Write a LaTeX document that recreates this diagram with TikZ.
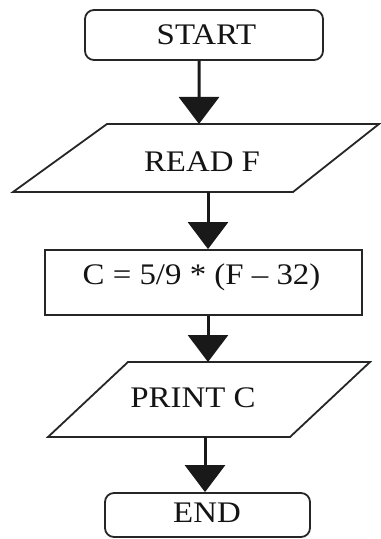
\documentclass[tikz,border=0pt]{standalone}
\usepackage{fontspec}
\setmainfont{Liberation Serif}
\usetikzlibrary{arrows.meta}
\newcommand{\lbltxt}[1]{\scalebox{1.1}[1]{#1}}
\begin{document}
\begin{tikzpicture}[x=1bp,y=-1bp,
  shapeline/.style={draw=black!85, line width=1.8bp},
  termbox/.style={shapeline, rounded corners=9bp, inner sep=0pt},
  procbox/.style={shapeline, inner sep=0pt},
  lbl/.style={inner sep=0pt, text=black!92, font=\fontsize{30}{32}\selectfont},
  arr/.style={draw=black!90, line width=3bp, -{Triangle[width=40bp,length=27bp]}}]
\useasboundingbox[fill=white] (0,0) rectangle (380,539);
% START
\node[termbox, minimum width=238bp, minimum height=50bp] (start) at (204,35) {};
\node[lbl] (tstart) at (206.5,35) {\lbltxt{START}};
% READ F
\draw[shapeline] (107,124) -- (379,124) -- (293,192) -- (13,192) -- cycle;
\coordinate (rtop) at (199,124);
\coordinate (rbot) at (208,192);
\node[lbl] (tread) at (202,162) {\lbltxt{READ F}};
% process
\node[procbox, minimum width=317bp, minimum height=65bp] (calc) at (203.5,282.5) {};
\node[lbl] (tcalc) at (201.5,277) {\lbltxt{C = 5/9 * (F – 32)}};
% PRINT C
\draw[shapeline] (128,362) -- (370,362) -- (290,437) -- (48,437) -- cycle;
\coordinate (ptop) at (208,362);
\coordinate (pbot) at (205,437);
\node[lbl] (tprint) at (193,398) {\lbltxt{PRINT C}};
% END
\node[termbox, minimum width=205bp, minimum height=44bp] (endn) at (207.5,515) {};
\node[lbl] (tend) at (207,513) {\lbltxt{END}};
% connectors
\draw[arr] ([xshift=-5bp]start.south) -- (rtop);
\draw[arr] (rbot) -- (calc.north -| rbot);
\draw[arr] (calc.south -| ptop) -- (ptop);
\draw[arr] (pbot) -- (endn.north -| pbot);
\end{tikzpicture}
\end{document}
